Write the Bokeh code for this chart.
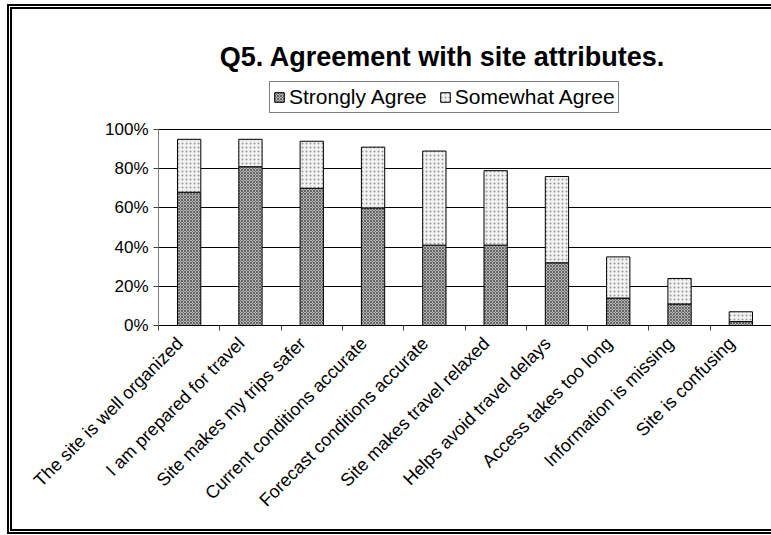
import numpy as np
from math import pi
from bokeh.plotting import figure
from bokeh.models import (ColumnDataSource, Range1d, FixedTicker, NumeralTickFormatter,
                          Label, Legend, LegendItem)
from bokeh.embed import file_html
from bokeh.resources import INLINE

# ---- data ----
categories = ["The site is well organized", "I am prepared for travel",
              "Site makes my trips safer", "Current conditions accurate",
              "Forecast conditions accurate", "Site makes travel relaxed",
              "Helps avoid travel delays", "Access takes too long",
              "Information is missing", "Site is confusing"]
strongly_agree = [0.68, 0.81, 0.70, 0.60, 0.41, 0.41, 0.32, 0.14, 0.11, 0.02]
somewhat_agree = [0.27, 0.14, 0.24, 0.31, 0.48, 0.38, 0.44, 0.21, 0.13, 0.05]
y_ticks = [0.0, 0.2, 0.4, 0.6, 0.8, 1.0]
title_text = "Q5.  Agreement with site attributes."
series_names = ["Strongly Agree", "Somewhat Agree"]

FONT = "Liberation Sans"

n = len(categories)
centers = [i + 0.5 for i in range(n)]
bounds = [i for i in range(n + 1)]
label_pos = [c - 0.15 for c in centers]
src = ColumnDataSource(dict(
    x=centers,
    s=strongly_agree,
    top=[a + b for a, b in zip(strongly_agree, somewhat_agree)],
))

# plot area: 196 px for 0..100 %, frame extends up to canvas top
FRAME_H = 316
PX_100 = 196
p = figure(width=759, height=520, output_backend="svg", toolbar_location=None,
           x_range=Range1d(0, n), y_range=Range1d(0, FRAME_H / PX_100),
           min_border_left=146, min_border_right=0, min_border_top=0,
           min_border_bottom=204)
p.styles = {"position": "absolute", "left": "12px", "top": "9px",
            "outline": "5px double #000"}
p.outline_line_color = None
p.background_fill_color = "white"
p.border_fill_color = "white"

r1 = p.vbar(x="x", width=0.38, bottom=0, top="s", source=src,
            fill_color="#b4b4b4", line_color="black", line_width=1,
            hatch_pattern="x", hatch_color="#666666", hatch_scale=3, hatch_weight=1)
r2 = p.vbar(x="x", width=0.38, bottom="s", top="top", source=src,
            fill_color="#f2f2f2", line_color="black", line_width=1,
            hatch_pattern=".", hatch_color="#9a9a9a", hatch_scale=4, hatch_weight=1)

# grid
p.xgrid.visible = False
p.ygrid.ticker = FixedTicker(ticks=y_ticks)
p.ygrid.grid_line_color = "black"
p.ygrid.grid_line_width = 1

# y axis
ya = p.yaxis[0]
ya.ticker = FixedTicker(ticks=y_ticks)
ya.bounds = (0, 1)
ya.formatter = NumeralTickFormatter(format="0%")
ya.major_label_text_font = FONT
ya.major_label_text_font_size = "17px"
ya.major_label_text_color = "black"
ya.major_tick_out = 5
ya.major_tick_in = 0
ya.minor_tick_line_color = None
ya.axis_line_color = "#808080"
ya.major_tick_line_color = "#404040"
ya.major_label_standoff = 5

# x axis
xa = p.xaxis[0]
xa.ticker = FixedTicker(ticks=label_pos, minor_ticks=bounds)
xa.major_label_overrides = {c: lab for c, lab in zip(label_pos, categories)}
xa.major_label_orientation = pi / 4
xa.major_label_text_font = FONT
xa.major_label_text_font_size = "18px"
xa.major_label_text_color = "black"
xa.major_tick_in = 0
xa.major_tick_out = 0
xa.minor_tick_in = 0
xa.minor_tick_out = 5
xa.minor_tick_line_color = "#404040"
xa.axis_line_color = "black"
xa.major_label_standoff = 10

# title
p.add_layout(Label(x=4.693, y=1.372, text=title_text, text_align="center",
                   text_baseline="alphabetic", text_font=FONT,
                   text_font_style="bold", text_font_size="27px",
                   text_color="black"))

legend = Legend(items=[LegendItem(label=series_names[0], renderers=[r1]),
                       LegendItem(label=series_names[1], renderers=[r2])],
                orientation="horizontal", location=(111, 212),
                border_line_color="black", border_line_width=1,
                background_fill_color="white", background_fill_alpha=1,
                label_text_font=FONT, label_text_font_size="21px",
                label_text_color="black",
                glyph_width=12, glyph_height=12, label_standoff=4,
                spacing=12, padding=3, margin=0, label_height=21)
p.add_layout(legend, "center")

open("out.html", "w").write(file_html(p, INLINE))
